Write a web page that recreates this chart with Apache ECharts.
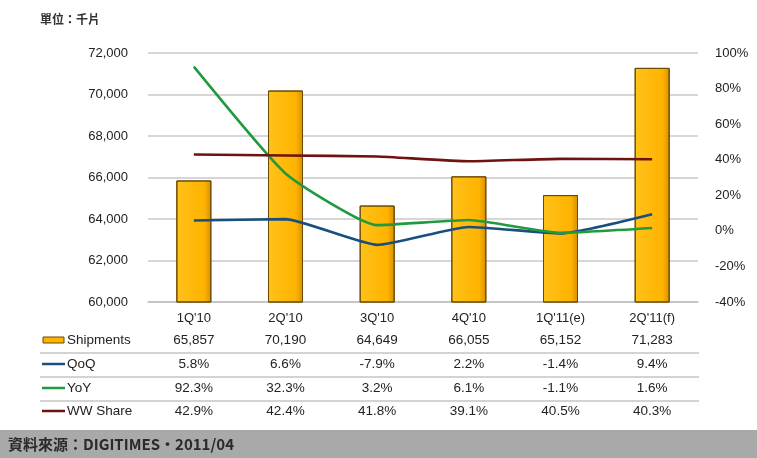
<!DOCTYPE html>
<html><head><meta charset="utf-8">
<script src="https://cdn.jsdelivr.net/npm/echarts@6/dist/echarts.min.js"></script>
<style>html,body{margin:0;padding:0;background:#fff}#c{width:757px;height:458px}</style>
</head><body><div id="c"></div>
<script>
const categories = ["1Q'10","2Q'10","3Q'10","4Q'10","1Q'11(e)","2Q'11(f)"];
const shipments = [65857,70190,64649,66055,65152,71283];
const qoq = [5.8,6.6,-7.9,2.2,-1.4,9.4];
const yoy = [92.3,32.3,3.2,6.1,-1.1,1.6];
const wwShare = [42.9,42.4,41.8,39.1,40.5,40.3];
const seriesNames = ['Shipments','QoQ','YoY','WW Share'];
const unitText = '單位：千片';
const sourceText = '資料來源：DIGITIMES‧2011/04';

const colors = {bar:'#FFB300', qoq:'#1a4f7d', yoy:'#1f9a3f', share:'#6e1212'};
const font = 'Arial, "Liberation Sans", sans-serif';
const chart = echarts.init(document.getElementById('c'));
const fmtNum = v => v.toLocaleString('en-US');
const fmtPct = v => v.toFixed(1) + '%';

chart.setOption({
  animation:false,
  grid:{left:148,right:59,top:53,bottom:156},
  xAxis:{type:'category',data:categories,
    axisLine:{show:true,onZero:false,lineStyle:{color:'#c0c0c0',width:1.5}},axisTick:{show:false},
    axisLabel:{color:'#222',fontSize:13,fontFamily:font,margin:10}},
  yAxis:[
    {type:'value',min:60000,max:72000,interval:2000,
     axisLabel:{color:'#222',fontSize:13,fontFamily:font,margin:20,formatter:v=>fmtNum(v)},
     axisLine:{show:false},axisTick:{show:false},
     splitLine:{lineStyle:{color:'#c8c8c8',width:1.5}}},
    {type:'value',min:-40,max:100,interval:20,
     axisLabel:{color:'#222',fontSize:13,fontFamily:font,margin:17,formatter:v=>v+'%'},
     axisLine:{show:false},axisTick:{show:false},splitLine:{show:false}}
  ],
  series:[
    {name:seriesNames[0],type:'bar',data:shipments,barWidth:35,z:1,
     itemStyle:{borderColor:'#6b4a00',borderWidth:1,
       color:new echarts.graphic.LinearGradient(0,0,1,0,[
         {offset:0,color:'#ffc21a'},{offset:0.8,color:'#ffb300'},{offset:1,color:'#d48f00'}])}},
    {name:seriesNames[1],type:'line',yAxisIndex:1,data:qoq,symbol:'none',smooth:0.15,z:3,
     lineStyle:{color:colors.qoq,width:2.6}},
    {name:seriesNames[2],type:'line',yAxisIndex:1,data:yoy,symbol:'none',smooth:0.15,z:3,
     lineStyle:{color:colors.yoy,width:2.6}},
    {name:seriesNames[3],type:'line',yAxisIndex:1,data:wwShare,symbol:'none',smooth:0.15,z:3,
     lineStyle:{color:colors.share,width:2.6}}
  ]
});

// Build data table below chart
const rows = [shipments.map(fmtNum), qoq.map(fmtPct), yoy.map(fmtPct), wwShare.map(fmtPct)];
const rowY = [340, 364, 388, 411];
const sepY = [353, 377, 401];
const lineColors = [null, colors.qoq, colors.yoy, colors.share];
const g = [];
g.push({type:'text',x:40,y:19,style:{text:unitText,fill:'#333',font:'bold 12px "Noto Sans CJK TC", sans-serif',verticalAlign:'middle'}});
rows.forEach((r,ri)=>{
  r.forEach((t,ci)=>{
    const x = chart.convertToPixel({xAxisIndex:0}, categories[ci]);
    g.push({type:'text',x:x,y:rowY[ri],style:{text:t,fill:'#222',font:'13.5px '+font,align:'center',verticalAlign:'middle'}});
  });
  g.push({type:'text',x:67,y:rowY[ri],style:{text:seriesNames[ri],fill:'#222',font:'13.5px '+font,align:'left',verticalAlign:'middle'}});
  if(ri===0){
    g.push({type:'rect',shape:{x:43,y:rowY[ri]-3,width:21,height:6},style:{fill:'#ffb300',stroke:'#6b4a00',lineWidth:1}});
  } else {
    g.push({type:'line',shape:{x1:42,y1:rowY[ri],x2:65,y2:rowY[ri]},style:{stroke:lineColors[ri],lineWidth:2.5}});
  }
});
sepY.forEach(y=>g.push({type:'line',shape:{x1:40,y1:y,x2:699,y2:y},style:{stroke:'#a8a8a8',lineWidth:1.2}}));
g.push({type:'rect',shape:{x:0,y:430,width:757,height:28},style:{fill:'#a9a9a9'}});
g.push({type:'text',x:8,y:444,style:{text:sourceText,fill:'#2a2a2a',font:'bold 15px "Noto Sans CJK TC", sans-serif',verticalAlign:'middle'}});
chart.setOption({graphic:g});
</script></body></html>
